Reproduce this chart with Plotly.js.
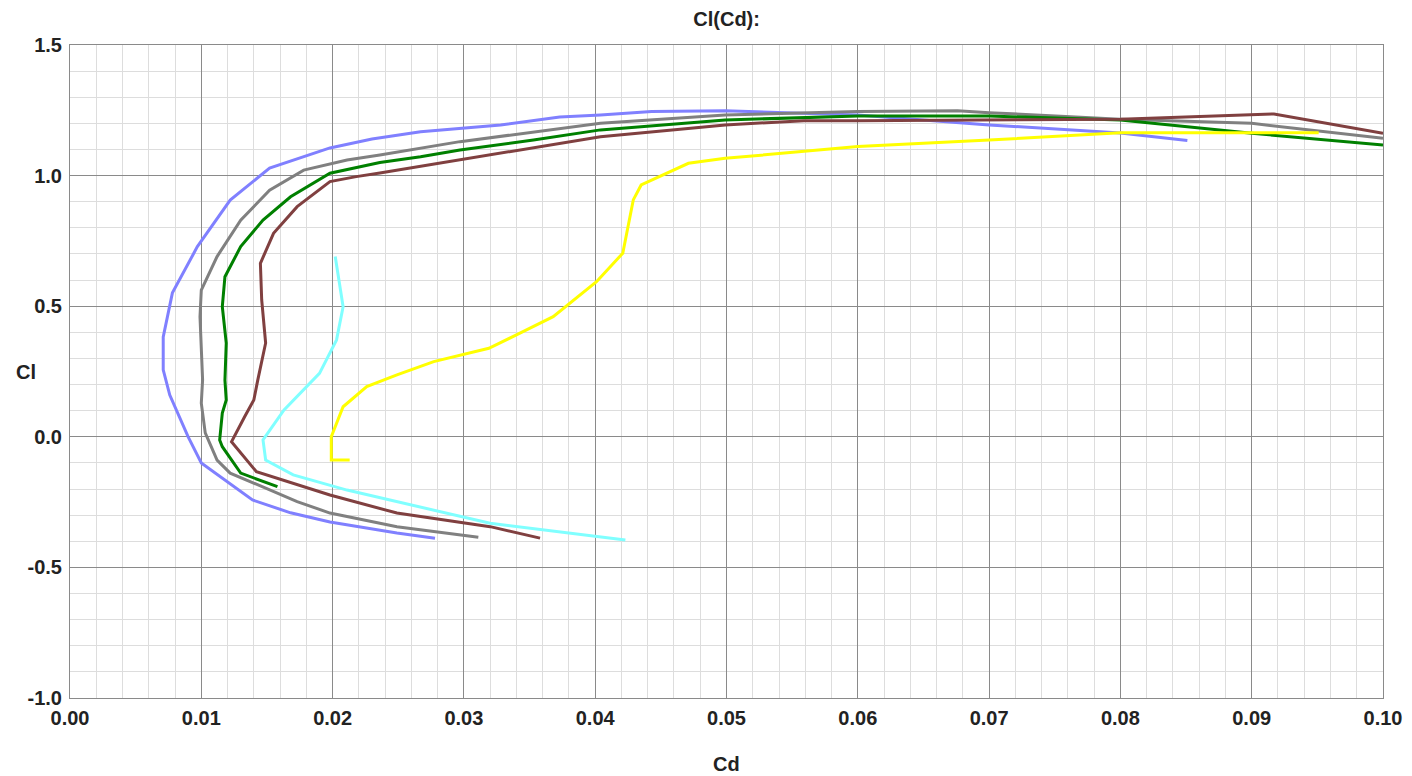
<!DOCTYPE html>
<html>
<head>
<meta charset="utf-8">
<script src="https://cdn.plot.ly/plotly-3.0.1.min.js"></script>
<style>html,body{margin:0;padding:0;background:#fff;}#chart{width:1412px;height:776px;}</style>
</head>
<body>
<div id="chart"></div>
<script>
// Series: Cd (x) and Cl (y) values
const blueCd = [0.0278,0.0249,0.0198,0.0168,0.0139,0.0100,0.0090,0.0083,0.0076,0.0071,0.0071,0.0078,0.0097,0.0122,0.0152,0.0198,0.0230,0.0267,0.0328,0.0373,0.0404,0.0443,0.0499,0.0600,0.0700,0.0800,0.0851];
const blueCl = [-0.388,-0.368,-0.326,-0.291,-0.242,-0.100,0.000,0.080,0.160,0.256,0.382,0.551,0.728,0.906,1.029,1.106,1.140,1.168,1.194,1.224,1.232,1.245,1.248,1.232,1.194,1.163,1.134];

const grayCd = [0.0311,0.0249,0.0198,0.0173,0.0122,0.0112,0.0103,0.0100,0.0101,0.0100,0.0099,0.0100,0.0112,0.0130,0.0152,0.0178,0.0211,0.0236,0.0297,0.0404,0.0499,0.0600,0.0676,0.0700,0.0800,0.0900,0.1000];
const grayCl = [-0.385,-0.344,-0.292,-0.248,-0.139,-0.089,0.015,0.129,0.218,0.332,0.460,0.562,0.690,0.829,0.944,1.021,1.060,1.079,1.130,1.200,1.232,1.245,1.248,1.241,1.216,1.200,1.143];

const greenCd = [0.0158,0.0130,0.0116,0.0114,0.0116,0.0119,0.0118,0.0119,0.0116,0.0118,0.0130,0.0147,0.0168,0.0198,0.0236,0.0267,0.0297,0.0353,0.0404,0.0499,0.0600,0.0700,0.0800,0.0900,0.1000];
const greenCl = [-0.191,-0.139,-0.038,-0.012,0.091,0.141,0.217,0.359,0.498,0.613,0.728,0.830,0.919,1.009,1.050,1.072,1.098,1.136,1.175,1.213,1.228,1.228,1.213,1.162,1.117];

const brownCd = [0.0358,0.0320,0.0249,0.0198,0.0142,0.0123,0.0133,0.0140,0.0143,0.0149,0.0146,0.0145,0.0155,0.0173,0.0198,0.0218,0.0236,0.0297,0.0404,0.0499,0.0559,0.0600,0.0700,0.0800,0.0917,0.1000];
const brownCl = [-0.388,-0.344,-0.292,-0.223,-0.134,-0.019,0.077,0.141,0.217,0.359,0.524,0.664,0.779,0.881,0.977,0.996,1.010,1.060,1.149,1.194,1.210,1.210,1.213,1.216,1.236,1.162];

const cyanCd = [0.0423,0.0320,0.0211,0.0170,0.0149,0.0147,0.0163,0.0185,0.0190,0.0203,0.0208,0.0206,0.0202];
const cyanCl = [-0.395,-0.331,-0.204,-0.146,-0.089,-0.012,0.103,0.217,0.243,0.371,0.498,0.562,0.690];

const yellowCd = [0.0213,0.0199,0.0199,0.0208,0.0226,0.0249,0.0277,0.0297,0.0319,0.0340,0.0368,0.0401,0.0421,0.0429,0.0435,0.0471,0.0499,0.0600,0.0700,0.0800,0.0900,0.0951];
const yellowCl = [-0.089,-0.089,0.000,0.115,0.192,0.237,0.288,0.313,0.339,0.390,0.460,0.594,0.703,0.907,0.964,1.047,1.066,1.111,1.136,1.164,1.164,1.164];

const xTickVals = [0,0.01,0.02,0.03,0.04,0.05,0.06,0.07,0.08,0.09,0.10];
const xTickText = ["0.00","0.01","0.02","0.03","0.04","0.05","0.06","0.07","0.08","0.09","0.10"];
const yTickVals = [-1.0,-0.5,0,0.5,1.0,1.5];
const yTickText = ["-1.0","-0.5","0.0","0.5","1.0","1.5"];

const series = [
  {x: blueCd, y: blueCl, color:"#8080ff"},
  {x: grayCd, y: grayCl, color:"#808080"},
  {x: greenCd, y: greenCl, color:"#008000"},
  {x: brownCd, y: brownCl, color:"#804040"},
  {x: cyanCd, y: cyanCl, color:"#80ffff"},
  {x: yellowCd, y: yellowCl, color:"#ffff00"}
];

const traces = series.map(s => ({
  type:"scatter", mode:"lines", x:s.x, y:s.y,
  line:{color:s.color, width:3}, showlegend:false
}));

const FONT = "Liberation Sans, Arial, sans-serif";
const tickFont = {family:FONT, size:20, color:"#222", weight:"bold"};

const layout = {
  width:1412, height:776,
  margin:{l:70, r:29, t:45, b:78},
  paper_bgcolor:"#ffffff", plot_bgcolor:"#ffffff",
  showlegend:false,
  title:{text:"<b>Cl(Cd):</b>", x:0.5146, xanchor:"center", y:1-19/776, yanchor:"middle",
         font:{family:FONT, size:20, color:"#222"}},
  xaxis:{range:[0,0.1], tickvals:xTickVals, ticktext:xTickText, tickfont:tickFont,
         showgrid:true, gridcolor:"#8a8a8a", gridwidth:1, zeroline:false,
         showline:true, linecolor:"#8a8a8a", linewidth:1, mirror:true, ticks:"", ticklen:0,
         ticklabelstandoff:2,
         minor:{dtick:0.002, tick0:0, showgrid:true, gridcolor:"#dddddd", gridwidth:1}},
  yaxis:{range:[-1,1.5], tickvals:yTickVals, ticktext:yTickText, tickfont:tickFont,
         showgrid:true, gridcolor:"#8a8a8a", gridwidth:1, zeroline:false,
         showline:true, linecolor:"#8a8a8a", linewidth:1, mirror:true, ticks:"", ticklen:0,
         ticklabelstandoff:3,
         minor:{dtick:0.1, tick0:0, showgrid:true, gridcolor:"#dddddd", gridwidth:1}},
  annotations:[
    {text:"<b>Cd</b>", xref:"paper", yref:"paper", x:0.5, y:(698-764)/653, showarrow:false,
     font:{family:FONT, size:20, color:"#222"}, xanchor:"center", yanchor:"middle"},
    {text:"<b>Cl</b>", xref:"paper", yref:"paper", x:0, xshift:-44, y:0.5, showarrow:false,
     font:{family:FONT, size:20, color:"#222"}, xanchor:"center", yanchor:"middle"}
  ]
};

Plotly.newPlot("chart", traces, layout, {displayModeBar:false, staticPlot:true});
</script>
</body>
</html>
